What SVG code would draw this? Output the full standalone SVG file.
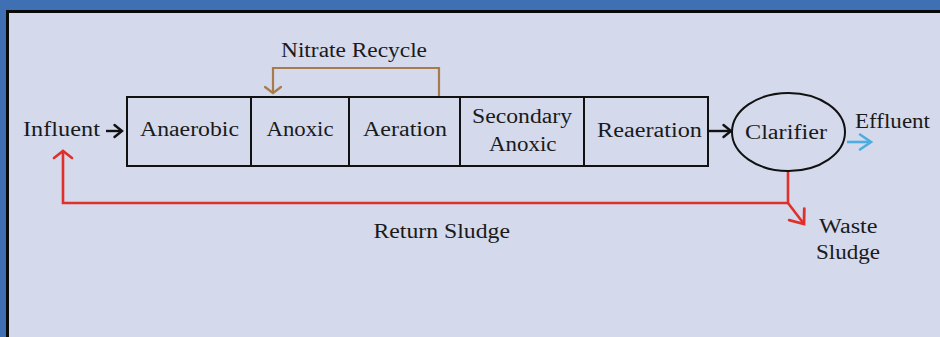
<svg xmlns="http://www.w3.org/2000/svg" width="940" height="337" viewBox="0 0 940 337">
  <style>
    .lbl { font-family: "Liberation Serif", "Times New Roman", serif; font-size: 20px; fill: #1a1a1a; }
    .box { fill: none; stroke: #111; stroke-width: 2; }
    .flow { fill: none; stroke: #111; stroke-width: 2.4; }
    .recycle { fill: none; stroke: #a87b4c; stroke-width: 2.2; }
    .sludge { fill: none; stroke: #e0302a; stroke-width: 2.6; }
    .eff { fill: none; stroke: #4aaee0; stroke-width: 2.6; }
    marker path { fill: none; stroke-linecap: round; stroke-linejoin: miter; }
  </style>
  <defs>
    <!-- open chevron heads, drawn in user units with the tip at the origin -->
    <marker id="headBlack" markerUnits="userSpaceOnUse" refX="0" refY="0" markerWidth="1" markerHeight="1" orient="auto" overflow="visible">
      <path d="M-7.5,-6 L0,0 L-7.5,6" stroke="#111" stroke-width="2.4"/>
    </marker>
    <marker id="headBrown" markerUnits="userSpaceOnUse" refX="0" refY="0" markerWidth="1" markerHeight="1" orient="auto" overflow="visible">
      <path d="M-6,-8 L0,0 L-6,8" stroke="#a87b4c" stroke-width="2.2"/>
    </marker>
    <marker id="headRed" markerUnits="userSpaceOnUse" refX="0" refY="0" markerWidth="1" markerHeight="1" orient="auto" overflow="visible">
      <path d="M-7,-9 L0,0 L-7,9" stroke="#e0302a" stroke-width="2.6"/>
    </marker>
    <marker id="headRedBig" markerUnits="userSpaceOnUse" refX="0" refY="0" markerWidth="1" markerHeight="1" orient="auto" overflow="visible">
      <path d="M-12,-9.5 L0,0 L-12,9.5" stroke="#e0302a" stroke-width="2.8"/>
    </marker>
    <marker id="headBlue" markerUnits="userSpaceOnUse" refX="0" refY="0" markerWidth="1" markerHeight="1" orient="auto" overflow="visible">
      <path d="M-11,-7.5 L0,0 L-11,7.5" stroke="#4aaee0" stroke-width="2.6"/>
    </marker>
  </defs>

  <!-- frame and panel -->
  <rect x="0" y="0" width="940" height="337" fill="#3e70b3"/>
  <rect x="7.5" y="11.5" width="1000" height="400" fill="#d4d9ec" stroke="#0a0a0a" stroke-width="3"/>

  <!-- connectors -->
  <g id="connectors">
    <line class="flow" x1="106" y1="131" x2="122" y2="131" marker-end="url(#headBlack)"/>
    <line class="flow" x1="709" y1="131" x2="731" y2="131" marker-end="url(#headBlack)"/>
    <line class="eff" x1="847" y1="142" x2="871" y2="142" marker-end="url(#headBlue)"/>
    <polyline class="recycle" points="439,97 439,68 273,68 273,93" marker-end="url(#headBrown)"/>
    <polyline class="sludge" points="788,171 788,203 63,203 63,151" marker-end="url(#headRed)"/>
    <line class="sludge" x1="788" y1="203" x2="804" y2="224" marker-end="url(#headRedBig)"/>
  </g>

  <!-- process train -->
  <g id="anaerobic">
    <rect class="box" x="127" y="97" width="124" height="69"/>
    <text class="lbl" x="140" y="136" textLength="99" lengthAdjust="spacingAndGlyphs">Anaerobic</text>
  </g>
  <g id="anoxic">
    <rect class="box" x="251" y="97" width="98" height="69"/>
    <text class="lbl" x="266.5" y="136" textLength="67" lengthAdjust="spacingAndGlyphs">Anoxic</text>
  </g>
  <g id="aeration">
    <rect class="box" x="349" y="97" width="111" height="69"/>
    <text class="lbl" x="363" y="136" textLength="84" lengthAdjust="spacingAndGlyphs">Aeration</text>
  </g>
  <g id="secondary-anoxic">
    <rect class="box" x="460" y="97" width="124" height="69"/>
    <text class="lbl" x="472" y="123" textLength="100" lengthAdjust="spacingAndGlyphs">Secondary</text>
    <text class="lbl" x="489" y="151" textLength="67.5" lengthAdjust="spacingAndGlyphs">Anoxic</text>
  </g>
  <g id="reaeration">
    <rect class="box" x="584" y="97" width="124" height="69"/>
    <text class="lbl" x="597" y="137" textLength="105" lengthAdjust="spacingAndGlyphs">Reaeration</text>
  </g>
  <g id="clarifier">
    <ellipse cx="788.5" cy="132" rx="56.5" ry="39" fill="none" stroke="#111" stroke-width="2"/>
    <text class="lbl" x="745" y="139" textLength="82" lengthAdjust="spacingAndGlyphs">Clarifier</text>
  </g>

  <!-- stream labels -->
  <g id="influent">
    <text class="lbl" x="23" y="136" textLength="77" lengthAdjust="spacingAndGlyphs">Influent</text>
  </g>
  <g id="effluent">
    <text class="lbl" x="855" y="127.5" textLength="75" lengthAdjust="spacingAndGlyphs">Effluent</text>
  </g>
  <g id="nitrate-recycle">
    <text class="lbl" x="281" y="56.5" textLength="146" lengthAdjust="spacingAndGlyphs">Nitrate Recycle</text>
  </g>
  <g id="return-sludge">
    <text class="lbl" x="373.5" y="237.5" textLength="136.5" lengthAdjust="spacingAndGlyphs">Return Sludge</text>
  </g>
  <g id="waste-sludge">
    <text class="lbl" x="819" y="232.5" textLength="58.5" lengthAdjust="spacingAndGlyphs">Waste</text>
    <text class="lbl" x="816" y="258.5" textLength="64" lengthAdjust="spacingAndGlyphs">Sludge</text>
  </g>
</svg>
